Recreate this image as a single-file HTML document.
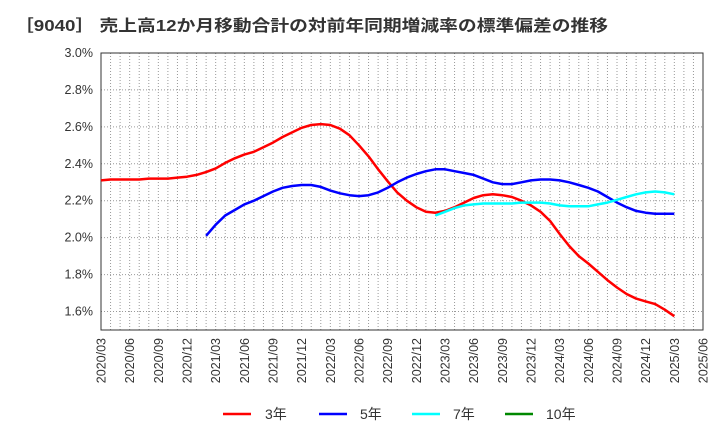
<!DOCTYPE html>
<html><head><meta charset="utf-8"><style>
body{margin:0;background:#fff;font-family:"Liberation Sans","Noto Sans CJK JP",sans-serif}
</style></head><body>
<svg id="chart" width="720" height="440" xmlns="http://www.w3.org/2000/svg" font-family="Liberation Sans, Noto Sans CJK JP, sans-serif">
<text x="15" y="31" font-size="16" font-weight="bold" fill="#333" textLength="593" lengthAdjust="spacingAndGlyphs">［9040］ 売上高12か月移動合計の対前年同期増減率の標準偏差の推移</text>
<g id="grid"></g><g id="axes"></g><g id="series"></g>
<g font-size="14" fill="#333">
<g><line x1="223" y1="414" x2="251" y2="414" stroke="#f00" stroke-width="2.5"/><text x="265" y="419">3年</text></g>
<g><line x1="319" y1="414" x2="347" y2="414" stroke="#00f" stroke-width="2.5"/><text x="360" y="419">5年</text></g>
<g><line x1="412" y1="414" x2="440" y2="414" stroke="#0ff" stroke-width="2.5"/><text x="453" y="419">7年</text></g>
<g><line x1="505" y1="414" x2="533" y2="414" stroke="#080" stroke-width="2.5"/><text x="546" y="419">10年</text></g>
</g>
</svg>
<script>
const yTicks=[1.6,1.8,2.0,2.2,2.4,2.6,2.8,3.0];
const xTickLabels=["2020/03","2020/06","2020/09","2020/12","2021/03","2021/06","2021/09","2021/12","2022/03","2022/06","2022/09","2022/12","2023/03","2023/06","2023/09","2023/12","2024/03","2024/06","2024/09","2024/12","2025/03","2025/06"];
const s3=[2.31,2.315,2.315,2.315,2.315,2.32,2.32,2.32,2.325,2.33,2.34,2.355,2.375,2.405,2.43,2.45,2.465,2.49,2.515,2.545,2.57,2.595,2.61,2.615,2.61,2.59,2.555,2.50,2.44,2.37,2.305,2.245,2.20,2.165,2.14,2.135,2.145,2.165,2.19,2.215,2.23,2.235,2.23,2.22,2.20,2.175,2.14,2.09,2.02,1.955,1.90,1.86,1.815,1.77,1.73,1.695,1.67,1.655,1.64,1.61,1.575];
const s5Start=11;
const s5=[2.01,2.07,2.12,2.15,2.18,2.20,2.225,2.25,2.27,2.28,2.285,2.285,2.275,2.255,2.24,2.23,2.225,2.23,2.245,2.27,2.30,2.325,2.345,2.36,2.37,2.37,2.36,2.35,2.34,2.32,2.30,2.29,2.29,2.30,2.31,2.315,2.315,2.31,2.30,2.285,2.27,2.25,2.22,2.19,2.165,2.145,2.135,2.13,2.13,2.13];
const s7Start=35;
const s7=[2.12,2.14,2.16,2.175,2.18,2.185,2.185,2.185,2.185,2.19,2.19,2.19,2.185,2.175,2.17,2.17,2.17,2.18,2.19,2.205,2.22,2.235,2.245,2.25,2.245,2.235];
const L=101,R=703,T=53,B=330,months=63,yMin=1.5,yMax=3.0;
const X=i=>L+(R-L)*i/months;
const Y=v=>B-(B-T)*(v-yMin)/(yMax-yMin);
const NS="http://www.w3.org/2000/svg";
function mk(tag,attrs,parent){const e=document.createElementNS(NS,tag);for(const k in attrs)e.setAttribute(k,attrs[k]);parent.appendChild(e);return e;}
const grid=document.getElementById('grid'),axes=document.getElementById('axes'),series=document.getElementById('series');
for(let m=1;m<months;m++){const l=mk('line',{x1:X(m),x2:X(m),y1:T,y2:B,stroke:'#999','stroke-dasharray':'1,2','stroke-width':1},grid);

}
yTicks.forEach(v=>{const l=mk('line',{x1:L,x2:R,y1:Y(v),y2:Y(v),stroke:'#999','stroke-dasharray':'1,2','stroke-width':1},grid);


const t=mk('text',{x:L-8,y:Y(v)+4,'text-anchor':'end','font-size':12.5,fill:'#333'},axes);t.textContent=v.toFixed(1)+'%';

});
xTickLabels.forEach((s,i)=>{const x=X(i*3);const t=mk('text',{x:0,y:0,transform:`translate(${x+4.5},338) rotate(-90)`,'text-anchor':'end','font-size':12.5,fill:'#333'},axes);t.textContent=s;

});
const fr=mk('rect',{x:L,y:T,width:R-L,height:B-T,fill:'none',stroke:'#333','stroke-width':1},axes);


function line(arr,start,color,name){const d=arr.map((v,i)=>(i?'L':'M')+X(start+i).toFixed(1)+','+Y(v).toFixed(1)).join('');
const p=mk('path',{d:d,fill:'none',stroke:color,'stroke-width':2.5,'stroke-linejoin':'round'},series);

}
line(s3,0,'#f00','series-3y');
line(s5,s5Start,'#00f','series-5y');
line(s7,s7Start,'#0ff','series-7y');
</script>
</body></html>
